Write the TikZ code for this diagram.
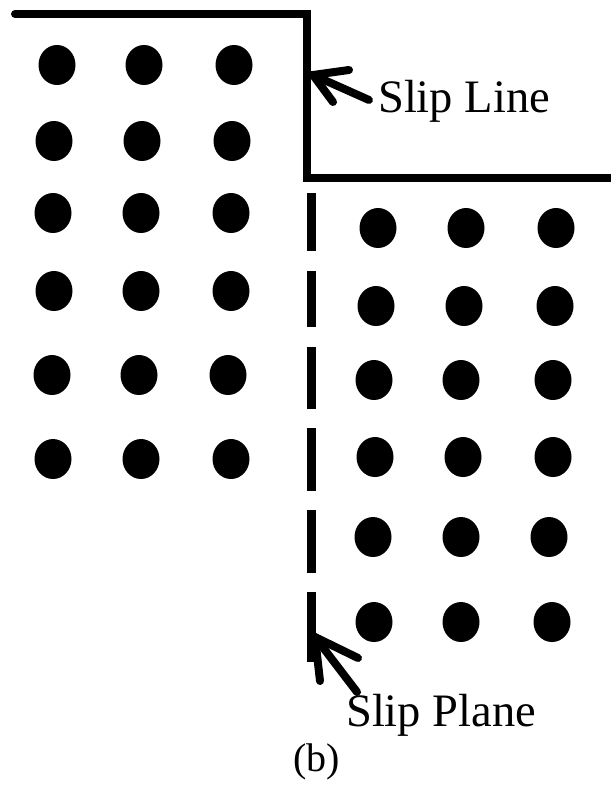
\documentclass[tikz,border=0pt]{standalone}
\usepackage{fontspec}
\setmainfont{Liberation Serif}
\usetikzlibrary{shapes.geometric}
\begin{document}
\begin{tikzpicture}[x=1pt,y=-1pt,
  dot/.style={ellipse,fill=black,inner sep=0pt,minimum width=37pt,minimum height=40pt},
  edge/.style={line width=8pt,line cap=round,line join=miter},
  dashseg/.style={line width=9pt},
  arr/.style={line width=8pt,line cap=round},
  lbl/.style={inner sep=0pt,font=\fontsize{46.5}{50}\selectfont},
]
\useasboundingbox (0,0) rectangle (610,797);
% step outline (slip line)
\coordinate (s0) at (15,14);
\coordinate (s1) at (307,14);
\coordinate (s2) at (307,178);
\coordinate (s3) at (614,178);
\draw[edge] (s0) -- (s1) -- (s2) -- (s3);
% slip plane (dashed)
\foreach \a/\b [count=\i] in {193/251,271/327,347/409,428/491,510/573,592/662}{
  \coordinate (d\i a) at (311,\a);
  \coordinate (d\i b) at (311,\b);
  \draw[dashseg] (d\i a) -- (d\i b);
}
% left block dots
\foreach \y/\xa/\xb/\xc [count=\r] in {65/57/144/234,141/54/142/232,213/53/141/231,291/54/141/231,375/52/139/228,459/53/141/231}{
  \node[dot] (L\r a) at (\xa,\y) {};
  \node[dot] (L\r b) at (\xb,\y) {};
  \node[dot] (L\r c) at (\xc,\y) {};
}
% right block dots
\foreach \y/\xa/\xb/\xc [count=\r] in {228/378/466/556,306/376/464/555,380/374/461/553,457/375/463/553,537/373/461/549,622/374/461/552}{
  \node[dot] (R\r a) at (\xa,\y) {};
  \node[dot] (R\r b) at (\xb,\y) {};
  \node[dot] (R\r c) at (\xc,\y) {};
}
% labels
\node[lbl,anchor=base west] (slipline) at (378,113) {Slip Line};
\node[lbl,anchor=base west] (slipplane) at (346,726) {Slip Plane};
\node[inner sep=0pt,anchor=base west,font=\fontsize{40}{44}\selectfont] (cap) at (293,771) {(b)};
% arrow to slip line
\coordinate (t1) at (313,75);
\coordinate (t1s) at (369,100);
\coordinate (t1a) at (349,70);
\coordinate (t1b) at (333,102);
\draw[arr] (t1s) -- (t1);
\draw[arr] (t1a) -- (t1) -- (t1b);
% arrow to slip plane
\coordinate (t2) at (315,637);
\coordinate (t2s) at (357,692);
\coordinate (t2a) at (358,658);
\coordinate (t2b) at (320,681);
\draw[arr] (t2s) -- (t2);
\draw[arr] (t2a) -- (t2) -- (t2b);
\end{tikzpicture}
\end{document}
